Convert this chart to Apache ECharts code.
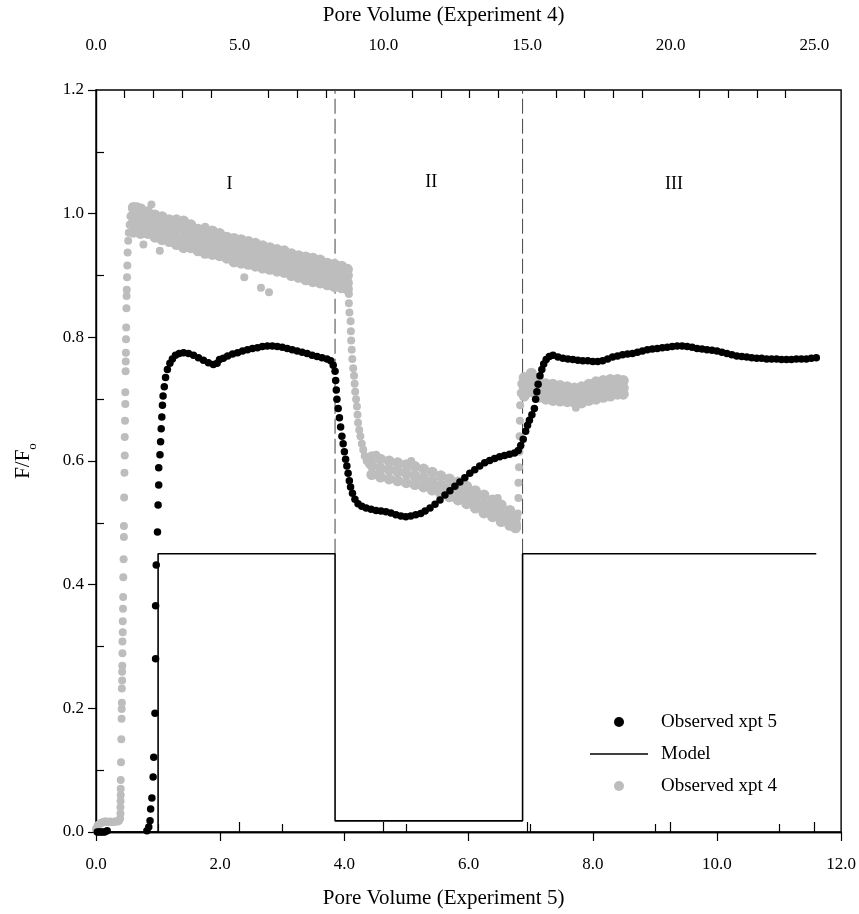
<!DOCTYPE html>
<html><head><meta charset="utf-8">
<script src="https://cdn.jsdelivr.net/npm/echarts@6/dist/echarts.min.js"></script>
<style>html,body{margin:0;padding:0;background:#fff}#c{width:859px;height:914px}</style>
</head><body><div id="c"></div>
<script>
// ---- tick values ----
const bottomMajorTicks = [0, 2, 4, 6, 8, 10, 12];
const bottomMinorTicks = [1, 3, 5, 7, 9, 11];
const topMajorTicks = [0, 5, 10, 15, 20, 25];
const topMinorTicks = [1,2,3,4,6,7,8,9,11,12,13,14,16,17,18,19,21,22,23,24];
const yMajorTicks = [0, 0.2, 0.4, 0.6, 0.8, 1.0, 1.2];
const yMinorTicks = [0.1, 0.3, 0.5, 0.7, 0.9, 1.1];

// ---- region labels (x in PV exp 5, y in F/Fo) ----
const regionLabels = [
  {name: 'I', value: [2.15, 1.047]},
  {name: 'II', value: [5.4, 1.05]},
  {name: 'III', value: [9.31, 1.047]}
];
// ---- boundaries (PV exp 5) ----
const dividerX = [3.85, 6.87];
const dividerY = [0.45, 1.2];

// ---- model (PV exp 5) ----
const model = [[0,0],[1.0,0],[1.0,0.45],[3.85,0.45],[3.85,0.018],[6.87,0.018],[6.87,0.45],[11.6,0.45]];

// ---- observed experiment 5 (PV exp 5) ----
const obs5 = [
 [0.02,0],[0.05,0],[0.08,0],[0.11,0],[0.14,0],[0.18,0.002],[0.82,0.002],[0.85,0.008],[0.87,0.018],[0.88,0.037],[0.90,0.055],
 [0.92,0.089],[0.93,0.121],[0.95,0.192],[0.96,0.28],[0.96,0.366],[0.97,0.432],[0.99,0.485],[1.00,0.529],[1.01,0.561],[1.01,0.589],
 [1.03,0.61],[1.04,0.631],[1.05,0.652],[1.06,0.671],[1.07,0.69],[1.08,0.705],[1.10,0.72],[1.12,0.735],[1.15,0.748],[1.19,0.758],
 [1.23,0.765],[1.28,0.771],[1.34,0.774],[1.41,0.775],[1.49,0.774],[1.57,0.771],[1.65,0.767],[1.73,0.763],[1.81,0.759],[1.89,0.756],
 [1.95,0.758],[1.99,0.764],[2.05,0.766],[2.12,0.77],[2.2,0.773],[2.28,0.775],[2.36,0.778],[2.44,0.78],[2.52,0.782],[2.6,0.783],
 [2.68,0.785],[2.76,0.786],[2.84,0.786],[2.92,0.785],[3.0,0.784],[3.08,0.782],[3.16,0.78],[3.24,0.778],[3.32,0.776],[3.4,0.774],
 [3.48,0.771],[3.56,0.769],[3.64,0.767],[3.72,0.765],[3.78,0.762],[3.82,0.755],[3.85,0.745],[3.86,0.73],[3.87,0.715],[3.88,0.70],
 [3.9,0.685],[3.92,0.67],[3.94,0.655],[3.96,0.64],[3.98,0.628],[4.0,0.615],[4.02,0.603],[4.04,0.592],[4.06,0.58],[4.08,0.568],
 [4.1,0.558],[4.13,0.548],[4.17,0.538],[4.22,0.531],[4.28,0.527],[4.35,0.524],[4.43,0.522],[4.51,0.52],[4.59,0.519],[4.67,0.518],
 [4.75,0.516],[4.83,0.513],[4.91,0.511],[4.99,0.51],[5.07,0.511],[5.15,0.513],[5.23,0.515],[5.3,0.519],[5.38,0.524],[5.46,0.53],
 [5.54,0.537],[5.62,0.545],[5.7,0.552],[5.78,0.559],[5.86,0.566],[5.94,0.573],[6.02,0.58],[6.1,0.586],[6.18,0.592],[6.26,0.597],
 [6.34,0.601],[6.42,0.604],[6.5,0.607],[6.58,0.609],[6.66,0.611],[6.74,0.613],[6.8,0.617],[6.84,0.625],[6.88,0.635],[6.92,0.648],
 [6.95,0.658],[6.98,0.666],[7.02,0.675],[7.06,0.685],[7.08,0.70],[7.1,0.712],[7.12,0.724],[7.15,0.738],[7.18,0.748],[7.21,0.757],
 [7.25,0.764],[7.3,0.769],[7.36,0.771],[7.44,0.768],[7.52,0.766],[7.6,0.765],[7.68,0.764],[7.76,0.763],[7.84,0.762],[7.92,0.762],
 [8.0,0.761],[8.08,0.761],[8.16,0.762],[8.24,0.765],[8.32,0.768],[8.40,0.77],[8.48,0.772],[8.56,0.773],[8.64,0.774],[8.72,0.776],
 [8.80,0.778],[8.88,0.78],[8.96,0.781],[9.04,0.782],[9.12,0.783],[9.2,0.784],[9.28,0.785],[9.36,0.786],[9.44,0.786],[9.52,0.785],
 [9.6,0.784],[9.68,0.782],[9.76,0.781],[9.84,0.78],[9.92,0.779],[10.0,0.778],[10.08,0.776],[10.16,0.774],[10.24,0.772],[10.32,0.77],
 [10.4,0.769],[10.48,0.768],[10.56,0.767],[10.64,0.766],[10.72,0.766],[10.8,0.765],[10.88,0.765],[10.96,0.765],[11.04,0.764],
 [11.12,0.764],[11.2,0.764],[11.28,0.765],[11.36,0.765],[11.44,0.765],[11.52,0.766],[11.6,0.767]
];

// ---- observed experiment 4 (PV exp 4) ----
const obs4Rise = [
 [0.0,0.005],[0.05,0.01],[0.1,0.012],[0.15,0.014],[0.2,0.015],[0.25,0.016],[0.3,0.017],[0.35,0.017],[0.4,0.016],[0.45,0.016],
 [0.5,0.017],[0.55,0.016],[0.6,0.016],[0.65,0.017],[0.7,0.017],[0.75,0.017],[0.8,0.018],[0.84,0.022],[0.85,0.03],[0.85,0.04],
 [0.855,0.05],[0.86,0.06],[0.86,0.07],[0.86,0.084],[0.87,0.113],[0.88,0.15],[0.89,0.183],[0.895,0.199],[0.9,0.209],[0.9,0.232],
 [0.91,0.245],[0.91,0.259],[0.915,0.269],[0.92,0.289],[0.92,0.308],[0.93,0.323],[0.93,0.341],[0.94,0.361],[0.945,0.38],[0.95,0.412],
 [0.96,0.441],[0.97,0.477],[0.97,0.495],[0.98,0.541],[0.99,0.581],[1.0,0.609],[1.0,0.639],[1.01,0.665],[1.02,0.692],[1.02,0.711],
 [1.03,0.745],[1.035,0.761],[1.04,0.775],[1.045,0.797],[1.05,0.816],[1.06,0.847],[1.065,0.867],[1.07,0.877],[1.08,0.897],[1.09,0.916],
 [1.1,0.937],[1.12,0.956],[1.14,0.969],[1.17,0.982],[1.2,0.996],[1.25,1.009]
];
// columns: [PV4, values across the band...]
const obs4PlateauCols = [
 [1.3,1.010,0.998,0.985,0.970],[1.55,1.008,0.995,0.982,0.968],[1.8,1.003,0.990,0.978,0.968],[2.05,0.998,0.985,0.975,0.962],
 [2.3,0.995,0.982,0.970,0.958],[2.55,0.990,0.978,0.966,0.955],[2.8,0.990,0.976,0.962,0.950],[3.05,0.988,0.975,0.960,0.945],
 [3.3,0.982,0.970,0.957,0.945],[3.55,0.975,0.962,0.950,0.940],[3.8,0.975,0.962,0.948,0.936],[4.05,0.972,0.960,0.946,0.934],
 [4.3,0.968,0.956,0.944,0.932],[4.55,0.962,0.950,0.940,0.928],[4.8,0.960,0.948,0.935,0.922],[5.05,0.958,0.945,0.932,0.920],
 [5.3,0.955,0.943,0.930,0.918],[5.55,0.952,0.940,0.928,0.915],[5.8,0.948,0.936,0.924,0.912],[6.05,0.945,0.933,0.920,0.910],
 [6.3,0.942,0.930,0.918,0.907],[6.55,0.940,0.928,0.915,0.905],[6.8,0.935,0.924,0.912,0.900],[7.05,0.932,0.920,0.908,0.897],
 [7.3,0.930,0.918,0.905,0.893],[7.55,0.928,0.915,0.903,0.890],[7.8,0.925,0.912,0.900,0.888],[8.05,0.920,0.910,0.897,0.885],
 [8.3,0.918,0.906,0.895,0.882],[8.55,0.915,0.903,0.892,0.880],[8.75,0.910,0.900,0.888,0.878]
];
const obs4PlateauOutliers = [[1.42,1.012],[1.93,1.015],[1.65,0.95],[2.22,0.94],[3.8,0.979],[5.16,0.897],[5.74,0.88],[6.02,0.873]];
const obs4Drop = [
 [8.8,0.87],[8.8,0.855],[8.82,0.84],[8.86,0.826],[8.87,0.81],[8.88,0.795],[8.9,0.78],[8.92,0.765],[8.95,0.75],[8.98,0.738],
 [9.0,0.725],[9.02,0.712],[9.05,0.70],[9.08,0.688],[9.1,0.675],[9.12,0.662],[9.16,0.65],[9.2,0.64],[9.25,0.628],[9.3,0.618],
 [9.35,0.608],[9.42,0.6],[9.5,0.595]
];
const obs4TroughCols = [
 [9.6,0.607,0.593,0.578],[9.9,0.603,0.588,0.574],[10.2,0.600,0.586,0.571],[10.5,0.597,0.583,0.568],[10.8,0.594,0.580,0.565],
 [11.1,0.591,0.576,0.562],[11.4,0.587,0.572,0.558],[11.7,0.582,0.567,0.553],[12.0,0.576,0.561,0.547],[12.3,0.571,0.556,0.542],
 [12.6,0.566,0.551,0.537],[12.9,0.559,0.545,0.531],[13.2,0.552,0.538,0.524],[13.5,0.545,0.530,0.516],[13.8,0.537,0.523,0.510],
 [14.1,0.529,0.515,0.502],[14.4,0.520,0.507,0.496],[14.6,0.508,0.498,0.492]
];
const obs4TroughOutliers = [[9.75,0.61],[10.97,0.60],[13.98,0.54]];
const obs4Rise2 = [
 [14.65,0.495],[14.68,0.515],[14.7,0.54],[14.7,0.565],[14.72,0.59],[14.73,0.615],[14.74,0.64],[14.75,0.665],[14.76,0.69],
 [14.78,0.71],[14.8,0.725]
];
const obs4Plateau2Cols = [
 [14.9,0.735,0.720,0.705],[15.15,0.742,0.728,0.712],[15.4,0.730,0.715,0.703],[15.65,0.725,0.712,0.700],[15.9,0.724,0.710,0.698],
 [16.15,0.722,0.708,0.697],[16.4,0.720,0.707,0.696],[16.65,0.718,0.706,0.695],[16.9,0.720,0.707,0.694],[17.15,0.724,0.710,0.698],
 [17.4,0.728,0.714,0.700],[17.65,0.730,0.716,0.703],[17.9,0.732,0.718,0.705],[18.15,0.732,0.720,0.708],[18.35,0.730,0.718,0.708]
];
const obs4Plateau2Outliers = [[16.7,0.686]];

// ---- assemble ----
const cols = arr => arr.flatMap(([x, ...ys]) => ys.map(y => [x, y]));
const obs4Sparse = [].concat(obs4Rise, obs4PlateauOutliers, obs4Drop, obs4TroughOutliers, obs4Rise2, obs4Plateau2Outliers);
const obs4Band = [].concat(cols(obs4PlateauCols), cols(obs4TroughCols), cols(obs4Plateau2Cols));

const FONT = 'Liberation Serif';
const black = '#000';
const gray = '#bdbdbd';
const fmt1 = v => Number(v).toFixed(1);
const axisLineStyle = {show: true, lineStyle: {color: black, width: 1.4}};

const chart = echarts.init(document.getElementById('c'), null, {renderer: 'canvas'});
chart.setOption({
  animation: false,
  backgroundColor: '#fff',
  grid: {left: 96, right: 14, top: 88, bottom: 82, show: true, borderColor: black, borderWidth: 1.4, backgroundColor: 'transparent'},
  legend: {
    data: [
      {name: 'Observed xpt 5', icon: 'circle'},
      {name: 'Model', icon: 'path://M0,0L58,0L58,1.6L0,1.6Z'},
      {name: 'Observed xpt 4', icon: 'circle'}
    ],
    orient: 'vertical', left: 585, top: 707,
    itemWidth: 58, itemHeight: 10, itemGap: 12, symbolKeepAspect: true,
    textStyle: {fontFamily: FONT, fontSize: 19, color: black, lineHeight: 20, padding: [0, 0, 0, 8]}
  },
  xAxis: [
    {type: 'value', position: 'bottom', min: 0, max: 12, interval: 2,
     axisLine: axisLineStyle, axisTick: {show: true, length: 9, lineStyle: {color: black, width: 1.2}},
     axisLabel: {margin: 24, formatter: fmt1, fontFamily: FONT, fontSize: 17, color: black},
     splitLine: {show: false},
     name: 'Pore Volume (Experiment 5)', nameLocation: 'middle', nameGap: 56,
     nameTextStyle: {fontFamily: FONT, fontSize: 21, color: black, padding: [0, 50, 0, 0]}},
    {type: 'value', position: 'top', min: 0, max: 25.93,
     axisLine: axisLineStyle,
     axisTick: {show: true, length: 10, customValues: topMajorTicks, lineStyle: {color: black, width: 1.2}},
     axisLabel: {margin: 36, customValues: topMajorTicks, formatter: fmt1, fontFamily: FONT, fontSize: 17, color: black},
     splitLine: {show: false},
     name: 'Pore Volume (Experiment 4)', nameLocation: 'middle', nameGap: 64,
     nameTextStyle: {fontFamily: FONT, fontSize: 21, color: black, padding: [0, 50, 0, 0]}},
    {type: 'value', position: 'bottom', min: 0, max: 12,
     axisLine: {show: false},
     axisTick: {show: true, inside: true, length: 8, customValues: bottomMinorTicks, lineStyle: {color: black, width: 1.2}},
     axisLabel: {show: false}, splitLine: {show: false}},
    {type: 'value', position: 'top', min: 0, max: 25.93,
     axisLine: {show: false},
     axisTick: {show: true, inside: true, length: 8, customValues: topMinorTicks, lineStyle: {color: black, width: 1.2}},
     axisLabel: {show: false}, splitLine: {show: false}}
  ],
  yAxis: [
    {type: 'value', position: 'left', min: 0, max: 1.2, interval: 0.2,
     axisLine: axisLineStyle, axisTick: {show: true, length: 8, lineStyle: {color: black, width: 1.2}},
     axisLabel: {margin: 12, formatter: fmt1, fontFamily: FONT, fontSize: 17, color: black},
     splitLine: {show: false},
     name: '{a|F/F}{b|o}', nameLocation: 'middle', nameGap: 57, nameRotate: 90,
     nameTextStyle: {rich: {
       a: {fontFamily: FONT, fontSize: 21, color: black, lineHeight: 26, verticalAlign: 'top'},
       b: {fontFamily: FONT, fontSize: 13, color: black, lineHeight: 14, verticalAlign: 'bottom'}
     }}},
    {type: 'value', position: 'left', min: 0, max: 1.2,
     axisLine: {show: false},
     axisTick: {show: true, inside: true, length: 8, customValues: yMinorTicks, lineStyle: {color: black, width: 1.2}},
     axisLabel: {show: false}, splitLine: {show: false}}
  ],
  series: [
    {name: 'Observed xpt 4', type: 'scatter', xAxisIndex: 1, yAxisIndex: 0, data: obs4Band,
     symbol: 'circle', symbolSize: 11, itemStyle: {color: gray, opacity: 1}, z: 2},
    {name: 'Observed xpt 4', type: 'scatter', xAxisIndex: 1, yAxisIndex: 0, data: obs4Sparse,
     symbol: 'circle', symbolSize: 8, itemStyle: {color: gray, opacity: 1}, z: 2},
    ...dividerX.map(x => ({type: 'line', xAxisIndex: 0, yAxisIndex: 0, data: dividerY.map(y => [x, y]),
      symbol: 'none', silent: true, lineStyle: {color: '#444', width: 1, type: [15, 5]}, z: 1})),
    {name: 'Model', type: 'line', xAxisIndex: 0, yAxisIndex: 0, data: model, symbol: 'none',
     lineStyle: {color: black, width: 1.6}, itemStyle: {color: black}, z: 3},
    {name: 'Observed xpt 5', type: 'scatter', xAxisIndex: 0, yAxisIndex: 0, data: obs5,
     symbol: 'circle', symbolSize: 7.5, itemStyle: {color: black, opacity: 1}, z: 4},
    {type: 'scatter', xAxisIndex: 0, yAxisIndex: 0, data: regionLabels, symbol: 'circle', symbolSize: 1, silent: true,
     itemStyle: {color: 'rgba(0,0,0,0)', opacity: 1},
     label: {show: true, position: 'inside', formatter: p => p.name, fontFamily: FONT, fontSize: 18,
             color: black, textBorderWidth: 0}}
  ]
});
</script></body></html>
